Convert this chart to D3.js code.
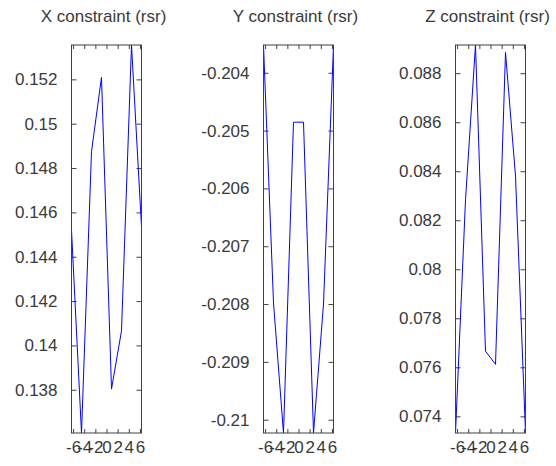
<!DOCTYPE html>
<html>
<head>
<meta charset="utf-8">
<script src="https://cdn.jsdelivr.net/npm/d3@7"></script>
<style>
  html, body { margin: 0; padding: 0; background: #fff; }
  svg { display: block; }
  text { font-family: "Liberation Sans", Arial, sans-serif; fill: #3a3a3a; }
</style>
</head>
<body>
<svg id="chart" width="556" height="466"></svg>
<script>
// Sample positions shared by all three constraint traces
const sampleX = [-6.283, -4.488, -2.693, -0.898, 0.898, 2.693, 4.488, 6.283];
const xTicks = [-6, -4, -2, 0, 2, 4, 6];

// Constraint values per axis
const xConstraint = [0.14521, 0.13605, 0.14874, 0.15209, 0.13803, 0.14066, 0.15355, 0.14536];
const yConstraint = [-0.20352, -0.20798, -0.21023, -0.204855, -0.204855, -0.21023, -0.20800, -0.20353];
const zConstraint = [0.07332, 0.08283, 0.08915, 0.07666, 0.07612, 0.08885, 0.08380, 0.07335];

// Tick values and their printed labels
const xConstraintTicks = [0.138, 0.14, 0.142, 0.144, 0.146, 0.148, 0.15, 0.152];
const xConstraintLabels = ["0.138", "0.14", "0.142", "0.144", "0.146", "0.148", "0.15", "0.152"];
const yConstraintTicks = [-0.21, -0.209, -0.208, -0.207, -0.206, -0.205, -0.204];
const yConstraintLabels = ["-0.21", "-0.209", "-0.208", "-0.207", "-0.206", "-0.205", "-0.204"];
const zConstraintTicks = [0.074, 0.076, 0.078, 0.08, 0.082, 0.084, 0.086, 0.088];
const zConstraintLabels = ["0.074", "0.076", "0.078", "0.08", "0.082", "0.084", "0.086", "0.088"];

const titles = ["X constraint (rsr)", "Y constraint (rsr)", "Z constraint (rsr)"];

const panels = [
  { title: titles[0], values: xConstraint, ticks: xConstraintTicks, labels: xConstraintLabels, left: 71.5 },
  { title: titles[1], values: yConstraint, ticks: yConstraintTicks, labels: yConstraintLabels, left: 263.5 },
  { title: titles[2], values: zConstraint, ticks: zConstraintTicks, labels: zConstraintLabels, left: 455.5 }
];

const svg = d3.select("#chart");
const plotTop = 45, plotBottom = 433, plotWidth = 70;
const axisColor = "#404040";

panels.forEach(p => {
  const g = svg.append("g").attr("transform", `translate(${p.left},${plotTop})`);
  const h = plotBottom - plotTop;

  const x = d3.scaleLinear().domain([-2 * Math.PI, 2 * Math.PI]).range([0, plotWidth]);
  const y = d3.scaleLinear().domain(d3.extent(p.values)).range([h, 0]);

  const labelMap = new Map(p.ticks.map((t, i) => [t, p.labels[i]]));

  // Left axis with labels, ticks pointing inward
  const leftAx = g.append("g")
    .call(d3.axisLeft(y).tickValues(p.ticks).tickSize(-5).tickPadding(14)
      .tickFormat(d => labelMap.get(d)));
  // Mirrored right axis
  const rightAx = g.append("g").attr("transform", `translate(${plotWidth},0)`)
    .call(d3.axisRight(y).tickValues(p.ticks).tickSize(-5).tickFormat(""));
  // Bottom axis with labels
  const botAx = g.append("g").attr("transform", `translate(0,${h})`)
    .call(d3.axisBottom(x).tickValues(xTicks).tickSize(-4).tickPadding(8)
      .tickFormat(d => String(d)));
  // Mirrored top axis
  const topAx = g.append("g")
    .call(d3.axisTop(x).tickValues(xTicks).tickSize(-4).tickFormat(""));

  [leftAx, rightAx, botAx, topAx].forEach(a => {
    a.select(".domain").remove();
    a.selectAll(".tick line").attr("stroke", axisColor);
    a.selectAll(".tick text").attr("font-size", 17).attr("fill", "#3a3a3a")
      .style("font-family", '"Liberation Sans", Arial, sans-serif');
  });

  // Data trace
  const line = d3.line().x((d, i) => x(sampleX[i])).y(d => y(d));
  g.append("path")
    .datum(p.values)
    .attr("fill", "none")
    .attr("stroke", "#0000ff")
    .attr("stroke-width", 1)
    .attr("d", line);

  // Frame
  g.append("rect")
    .attr("x", 0).attr("y", 0)
    .attr("width", plotWidth).attr("height", h)
    .attr("fill", "none")
    .attr("stroke", axisColor)
    .attr("stroke-width", 1);

  // Panel title
  svg.append("text")
    .attr("x", p.left + plotWidth / 2 - 3)
    .attr("y", 22)
    .attr("text-anchor", "middle")
    .attr("font-size", 17)
    .text(p.title);
});
</script>
</body>
</html>
